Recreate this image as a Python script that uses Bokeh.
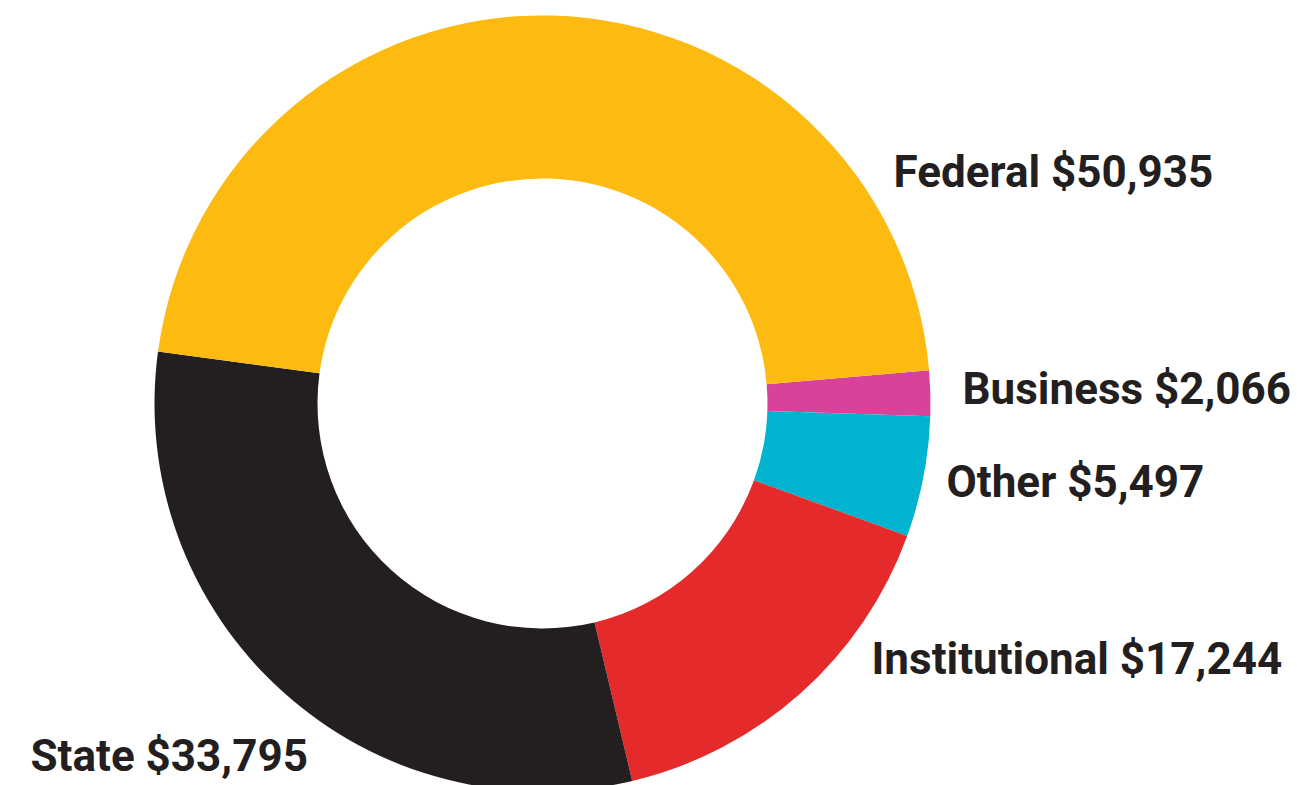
import math
from bokeh.plotting import figure
from bokeh.models import Range1d, ColumnDataSource
from bokeh.core.properties import value
from bokeh.embed import file_html
from bokeh.resources import INLINE

# Data (clockwise from the right side)
categories = ["Business", "Other", "Institutional", "State", "Federal"]
values = [2066, 5497, 17244, 33795, 50935]
colors = ["#D8429B", "#00B4CF", "#E42A2A", "#231F20", "#FDBB12"]

# label layout (screen px from top-left of page: left x, baseline y)
label_x = [962, 946, 871, 30, 893]
label_y = [405, 498, 675, 772, 188]
BASELINE_FIX = 17  # renderer places alphabetic baseline lower than requested

W, H = 1297, 785
p = figure(width=W, height=H, output_backend="svg", toolbar_location=None,
           x_range=Range1d(0, W), y_range=Range1d(0, H),
           min_border=0)
p.axis.visible = False
p.grid.visible = False
p.outline_line_color = None
p.background_fill_color = "white"
p.border_fill_color = "white"

cx, cy = 542, H - 403
r_out, r_in = 388, 225

total = sum(values)
start0 = math.radians(4.9)
starts, ends = [], []
acc = start0
for v in values:
    a = v / total * 2 * math.pi
    starts.append(acc)
    ends.append(acc - a)
    acc -= a

src = ColumnDataSource(dict(start=starts, end=ends, color=colors, cat=categories))
p.annular_wedge(x=cx, y=cy, inner_radius=r_in, outer_radius=r_out,
                start_angle="start", end_angle="end", direction="clock",
                fill_color="color", line_color=None, source=src)

lsrc = ColumnDataSource(dict(
    x=label_x, y=[H - (y - BASELINE_FIX) for y in label_y],
    text=[f"{c} ${v:,}" for c, v in zip(categories, values)]))
p.text(x="x", y="y", text="text", source=lsrc,
       text_font=value("Roboto"), text_font_style="bold",
       text_font_size="44px", text_color="#231F20",
       text_baseline="alphabetic", text_align="left")

open("out.html", "w").write(file_html(p, INLINE))
